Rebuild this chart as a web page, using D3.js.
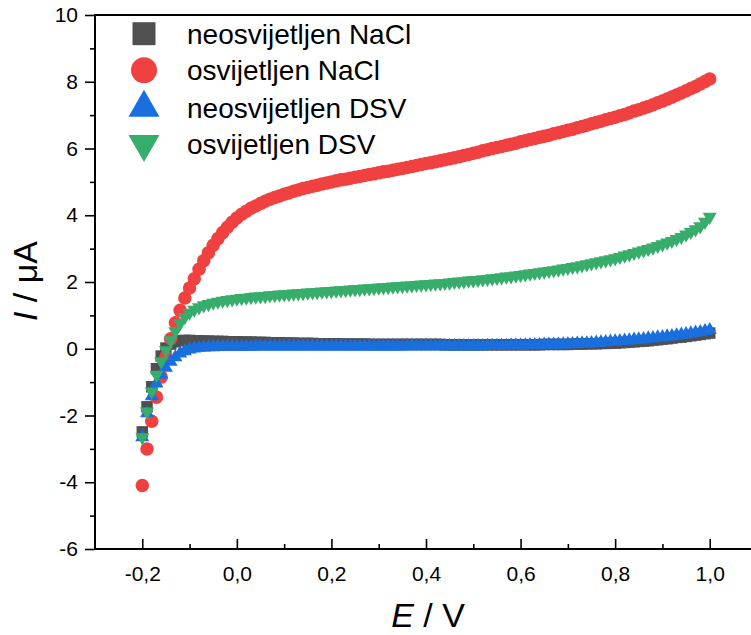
<!DOCTYPE html>
<html>
<head>
<meta charset="utf-8">
<script src="https://cdn.jsdelivr.net/npm/d3@7"></script>
<style>
  html, body { margin: 0; padding: 0; background: #fff; }
  svg { display: block; }
  text { font-family: "Liberation Sans", Arial, sans-serif; fill: #000; }
</style>
</head>
<body>
<svg id="chart" width="751" height="635"></svg>
<script>
// ---- data ----
const E = [
 -0.20,-0.19,-0.18,-0.17,-0.16,-0.15,-0.14,-0.13,-0.12,-0.11,-0.10,
 -0.09,-0.08,-0.07,-0.06,-0.05,-0.04,-0.03,-0.02,-0.01,0.00,
 0.01,0.02,0.03,0.04,0.05,0.06,0.07,0.08,0.09,0.10,
 0.11,0.12,0.13,0.14,0.15,0.16,0.17,0.18,0.19,0.20,
 0.21,0.22,0.23,0.24,0.25,0.26,0.27,0.28,0.29,0.30,
 0.31,0.32,0.33,0.34,0.35,0.36,0.37,0.38,0.39,0.40,
 0.41,0.42,0.43,0.44,0.45,0.46,0.47,0.48,0.49,0.50,
 0.51,0.52,0.53,0.54,0.55,0.56,0.57,0.58,0.59,0.60,
 0.61,0.62,0.63,0.64,0.65,0.66,0.67,0.68,0.69,0.70,
 0.71,0.72,0.73,0.74,0.75,0.76,0.77,0.78,0.79,0.80,
 0.81,0.82,0.83,0.84,0.85,0.86,0.87,0.88,0.89,0.90,
 0.91,0.92,0.93,0.94,0.95,0.96,0.97,0.98,0.99,1.00
];

const neosvNaCl = [
 -2.49,-1.74,-1.14,-0.60,-0.22,0.02,0.14,0.21,0.24,0.25,0.25,
 0.24,0.24,0.23,0.23,0.22,0.22,0.22,0.21,0.21,0.21,
 0.20,0.20,0.20,0.19,0.19,0.19,0.18,0.18,0.18,0.17,
 0.17,0.17,0.16,0.16,0.16,0.16,0.15,0.15,0.15,0.15,
 0.15,0.14,0.14,0.14,0.14,0.14,0.14,0.13,0.13,0.13,
 0.13,0.13,0.13,0.13,0.13,0.13,0.13,0.13,0.13,0.13,
 0.13,0.13,0.13,0.12,0.12,0.12,0.12,0.12,0.12,0.12,
 0.12,0.12,0.12,0.12,0.12,0.12,0.12,0.12,0.12,0.12,
 0.12,0.12,0.12,0.12,0.13,0.13,0.13,0.13,0.13,0.13,
 0.14,0.14,0.14,0.15,0.15,0.15,0.16,0.16,0.17,0.17,
 0.18,0.19,0.20,0.21,0.22,0.23,0.24,0.26,0.27,0.29,
 0.30,0.32,0.34,0.35,0.37,0.39,0.41,0.43,0.45,0.47
];

const osvNaCl = [
 -4.10,-3.00,-2.17,-1.45,-0.85,-0.25,0.30,0.78,1.15,1.52,1.82,
 2.10,2.38,2.64,2.88,3.10,3.30,3.48,3.64,3.79,3.92,
 4.03,4.12,4.21,4.28,4.35,4.42,4.48,4.53,4.58,4.63,
 4.67,4.72,4.76,4.80,4.83,4.87,4.90,4.94,4.97,5.00,
 5.03,5.06,5.08,5.11,5.14,5.16,5.19,5.22,5.24,5.27,
 5.30,5.32,5.35,5.38,5.40,5.43,5.46,5.49,5.52,5.55,
 5.57,5.60,5.63,5.66,5.69,5.72,5.75,5.79,5.82,5.86,
 5.89,5.93,5.96,6.00,6.03,6.06,6.10,6.13,6.16,6.20,
 6.23,6.27,6.30,6.34,6.37,6.40,6.44,6.47,6.51,6.55,
 6.58,6.62,6.66,6.70,6.74,6.78,6.82,6.86,6.90,6.94,
 6.98,7.02,7.07,7.12,7.16,7.21,7.26,7.31,7.37,7.42,
 7.48,7.54,7.60,7.66,7.73,7.80,7.86,7.93,8.01,8.08
];

const neosvDSV = [
 -2.65,-1.93,-1.42,-1.04,-0.78,-0.57,-0.39,-0.25,-0.14,-0.07,-0.02,
 0.01,0.03,0.04,0.05,0.05,0.06,0.06,0.06,0.06,0.06,
 0.06,0.06,0.06,0.07,0.07,0.07,0.07,0.07,0.07,0.07,
 0.07,0.07,0.07,0.07,0.07,0.07,0.07,0.07,0.07,0.07,
 0.07,0.07,0.07,0.07,0.07,0.07,0.07,0.07,0.07,0.07,
 0.07,0.07,0.07,0.07,0.07,0.08,0.08,0.08,0.08,0.08,
 0.08,0.08,0.08,0.08,0.08,0.08,0.08,0.08,0.08,0.08,
 0.08,0.08,0.09,0.09,0.09,0.09,0.09,0.10,0.10,0.10,
 0.10,0.11,0.11,0.11,0.12,0.12,0.12,0.13,0.13,0.14,
 0.14,0.15,0.16,0.16,0.17,0.18,0.19,0.20,0.21,0.22,
 0.23,0.24,0.25,0.27,0.28,0.29,0.31,0.32,0.34,0.35,
 0.37,0.38,0.40,0.42,0.44,0.46,0.48,0.50,0.53,0.56
];

const osvDSV = [
 -2.65,-1.88,-1.28,-0.78,-0.38,-0.05,0.25,0.52,0.76,0.95,1.08,
 1.17,1.24,1.30,1.34,1.38,1.41,1.44,1.46,1.48,1.50,
 1.52,1.53,1.55,1.56,1.57,1.58,1.60,1.61,1.62,1.63,
 1.64,1.65,1.66,1.67,1.68,1.69,1.70,1.71,1.72,1.73,
 1.74,1.75,1.76,1.77,1.78,1.79,1.80,1.81,1.82,1.83,
 1.84,1.85,1.86,1.87,1.88,1.89,1.90,1.91,1.92,1.93,
 1.94,1.95,1.96,1.97,1.98,2.00,2.01,2.02,2.04,2.05,
 2.06,2.08,2.09,2.11,2.12,2.14,2.16,2.17,2.19,2.21,
 2.23,2.25,2.27,2.29,2.31,2.33,2.35,2.37,2.40,2.42,
 2.45,2.47,2.50,2.53,2.56,2.59,2.62,2.65,2.68,2.71,
 2.75,2.79,2.83,2.87,2.91,2.95,2.99,3.03,3.08,3.13,
 3.18,3.23,3.29,3.35,3.42,3.50,3.58,3.67,3.80,3.95
];

const seriesNames = ["neosvijetljen NaCl", "osvijetljen NaCl", "neosvijetljen DSV", "osvijetljen DSV"];
const xMajorTicks = [-0.2, 0.0, 0.2, 0.4, 0.6, 0.8, 1.0];
const xMinorTicks = [-0.1, 0.1, 0.3, 0.5, 0.7, 0.9];
const yMajorTicks = [-6, -4, -2, 0, 2, 4, 6, 8, 10];
const yMinorTicks = [-5, -3, -1, 1, 3, 5, 7, 9];

// ---- layout ----
const svg = d3.select("#chart");
const L = 95, T = 15, B = 549, R = 757;
const x = d3.scaleLinear().domain([-0.3, 1.1]).range([L, R]);
const y = d3.scaleLinear().domain([-6, 10]).range([B, T]);

const series = [
  { name: seriesNames[0], values: neosvNaCl, color: "#505050", shape: "square" },
  { name: seriesNames[1], values: osvNaCl,   color: "#F14040", shape: "circle" },
  { name: seriesNames[2], values: neosvDSV,  color: "#1A6FDF", shape: "up" },
  { name: seriesNames[3], values: osvDSV,    color: "#37AD6B", shape: "down" }
];

function shapePath(shape, s) {
  // s = nominal size (width)
  if (shape === "square") {
    const h = s / 2;
    return `M${-h},${-h}H${h}V${h}H${-h}Z`;
  }
  if (shape === "circle") {
    const r = s / 2;
    return `M${r},0A${r},${r} 0 1,1 ${-r},0A${r},${r} 0 1,1 ${r},0Z`;
  }
  const w = s / 2, hh = s * 0.87;
  if (shape === "up") {
    return `M0,${-hh * 2 / 3}L${w},${hh / 3}L${-w},${hh / 3}Z`;
  }
  return `M0,${hh * 2 / 3}L${w},${-hh / 3}L${-w},${-hh / 3}Z`;
}
const markerSize = { square: 11.5, circle: 13.5, up: 14, down: 14 };
const legendSize = { square: 23, circle: 26, up: 31, down: 31 };

// clip
svg.append("defs").append("clipPath").attr("id", "clip")
  .append("rect").attr("x", L).attr("y", T).attr("width", R - L).attr("height", B - T);

// ---- markers ----
const plot = svg.append("g").attr("clip-path", "url(#clip)");
series.forEach(s => {
  plot.append("g").selectAll("path")
    .data(E.map((e, i) => [e, s.values[i]]))
    .join("path")
    .attr("transform", d => `translate(${x(d[0])},${y(d[1])})`)
    .attr("d", shapePath(s.shape, markerSize[s.shape]))
    .attr("fill", s.color);
});

// ---- axes ----
const fmtX = v => v.toFixed(1).replace(".", ",").replace("\u2212", "-");
const fmtY = v => String(v);

const xAxis = svg.append("g").attr("transform", `translate(0,${B})`)
  .call(d3.axisBottom(x).tickValues(xMajorTicks).tickSize(-10).tickPadding(17).tickFormat(fmtX));
const xMinor = svg.append("g").attr("transform", `translate(0,${B})`)
  .call(d3.axisBottom(x).tickValues(xMinorTicks).tickSize(-5).tickFormat(""));
const yAxis = svg.append("g").attr("transform", `translate(${L},0)`)
  .call(d3.axisLeft(y).tickValues(yMajorTicks).tickSize(10).tickPadding(7).tickFormat(fmtY));
const yMinor = svg.append("g").attr("transform", `translate(${L},0)`)
  .call(d3.axisLeft(y).tickValues(yMinorTicks).tickSize(5).tickFormat(""));

[xAxis, xMinor, yAxis, yMinor].forEach(g => {
  g.select(".domain").remove();
  g.selectAll(".tick line").attr("stroke", "#000").attr("stroke-width", 1.6);
  g.selectAll("text").attr("font-size", 21).attr("font-family", "'Liberation Sans', Arial, sans-serif").attr("fill", "#000");
});

// frame lines: left, top, bottom
svg.append("line").attr("x1", L).attr("x2", L).attr("y1", T - 1).attr("y2", B + 1)
  .attr("stroke", "#000").attr("stroke-width", 2);
svg.append("line").attr("x1", L).attr("x2", 751).attr("y1", T).attr("y2", T)
  .attr("stroke", "#000").attr("stroke-width", 2);
svg.append("line").attr("x1", L).attr("x2", 751).attr("y1", B).attr("y2", B)
  .attr("stroke", "#000").attr("stroke-width", 2);

// ---- axis titles ----
const xt = svg.append("text").attr("x", 428).attr("y", 627).attr("text-anchor", "middle")
  .attr("font-size", 34);
xt.append("tspan").attr("font-style", "italic").text("E");
xt.append("tspan").text(" / V");

const yt = svg.append("text").attr("transform", "translate(37,281) rotate(-90)")
  .attr("text-anchor", "middle").attr("font-size", 34);
yt.append("tspan").attr("font-style", "italic").text("I");
yt.append("tspan").text(" / \u03BCA");

// ---- legend ----
const legendRows = [33.7, 70.3, 107.8, 144];
const lg = svg.append("g");
series.forEach((s, i) => {
  lg.append("path")
    .attr("transform", `translate(144,${legendRows[i]})`)
    .attr("d", shapePath(s.shape, legendSize[s.shape]))
    .attr("fill", s.color);
  lg.append("text").attr("x", 187).attr("y", legendRows[i]).attr("dy", "0.36em")
    .attr("font-size", 28).text(s.name);
});
</script>
</body>
</html>
